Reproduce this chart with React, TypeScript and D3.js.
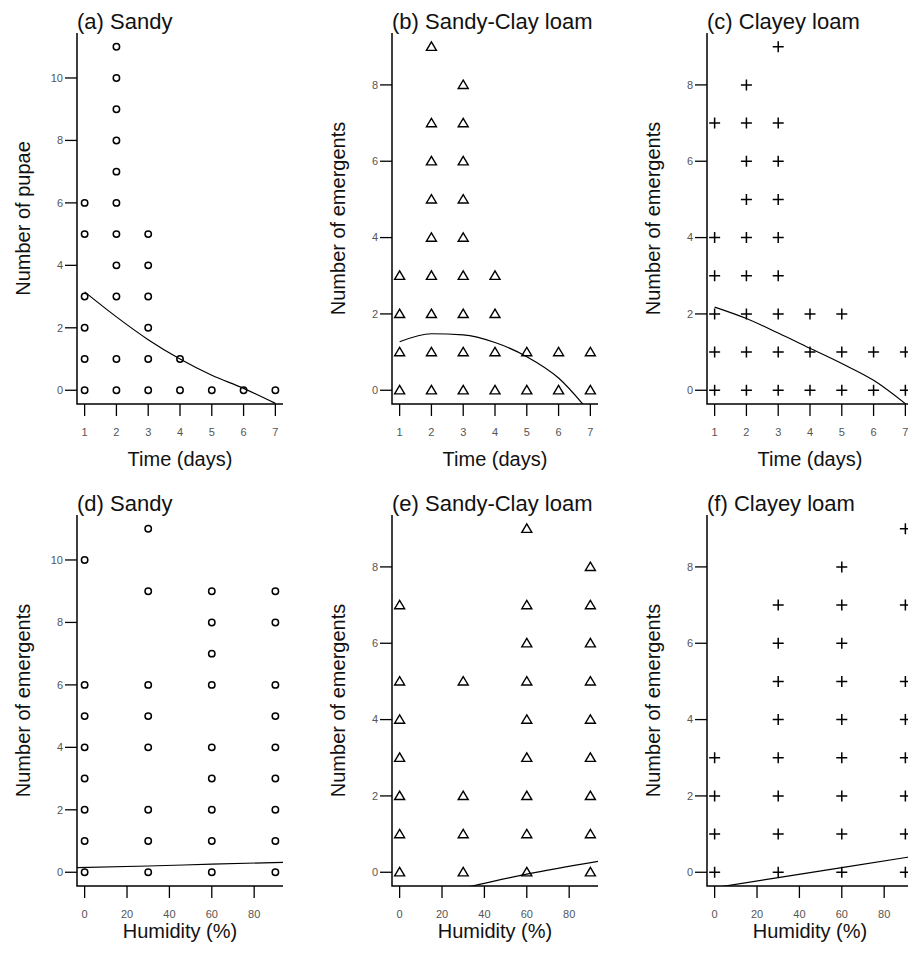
import * as d3 from 'd3'

// x levels
const DAYS = [1, 2, 3, 4, 5, 6, 7]
const HUMIDITY = [0, 30, 60, 90]
const DAY_TICKS = [1, 2, 3, 4, 5, 6, 7]
const HUM_TICKS = [0, 20, 40, 60, 80]
const Y_TICKS_SANDY = [0, 2, 4, 6, 8, 10]
const Y_TICKS_LOAM = [0, 2, 4, 6, 8]

// observed counts at each x level (one list per level)
const sandyTime = [
  [0, 1, 2, 3, 5, 6],
  [0, 1, 3, 4, 5, 6, 7, 8, 9, 10, 11],
  [0, 1, 2, 3, 4, 5],
  [0, 1],
  [0],
  [0],
  [0],
]
const sandyClayTime = [
  [0, 1, 2, 3],
  [0, 1, 2, 3, 4, 5, 6, 7, 9],
  [0, 1, 2, 3, 4, 5, 6, 7, 8],
  [0, 1, 2, 3],
  [0, 1],
  [0, 1],
  [0, 1],
]
const clayeyTime = [
  [0, 1, 2, 3, 4, 7],
  [0, 1, 2, 3, 4, 5, 6, 7, 8],
  [0, 1, 2, 3, 4, 5, 6, 7, 9],
  [0, 1, 2],
  [0, 1, 2],
  [0, 1],
  [0, 1],
]
const sandyHum = [
  [0, 1, 2, 3, 4, 5, 6, 10],
  [0, 1, 2, 4, 5, 6, 9, 11],
  [0, 1, 2, 3, 4, 6, 7, 8, 9],
  [0, 1, 2, 3, 4, 5, 6, 8, 9],
]
const sandyClayHum = [
  [0, 1, 2, 3, 4, 5, 7],
  [0, 1, 2, 5],
  [0, 1, 2, 3, 4, 5, 6, 7, 9],
  [0, 1, 2, 3, 4, 5, 6, 7, 8],
]
const clayeyHum = [
  [0, 1, 2, 3],
  [0, 1, 2, 3, 4, 5, 6, 7],
  [0, 1, 2, 3, 4, 5, 6, 7, 8],
  [0, 1, 2, 3, 4, 5, 7, 9],
]

// fitted curves
const FIT_DAYS = [1, 2, 3, 4, 5, 6, 7]
const fitSandyTime = [3.15, 2.35, 1.62, 1.0, 0.48, 0.06, -0.42]
const fitSandyClayTime = [1.27, 1.48, 1.45, 1.25, 0.88, 0.32, -0.6]
const fitClayeyTime = [2.18, 1.88, 1.5, 1.1, 0.7, 0.26, -0.35]
const FIT_HUM = [-4, 30, 60, 94]
const fitSandyHum = [0.15, 0.2, 0.26, 0.32]
const fitSandyClayHum = [-0.78, -0.41, -0.05, 0.29]
const fitClayeyHum = [-0.44, -0.14, 0.12, 0.42]

type Marker = 'circle' | 'triangle' | 'plus'

interface PanelDef {
  title: string
  yLabel: string
  xLabel: string
  levels: number[]
  counts: number[][]
  xTicks: number[]
  yTicks: number[]
  yMax: number
  fitX: number[]
  fitY: number[]
  marker: Marker
}

const FONT = '"Liberation Sans", Arial, sans-serif'

const panels: PanelDef[] = [
  { title: '(a) Sandy', yLabel: 'Number of pupae', xLabel: 'Time (days)', levels: DAYS, counts: sandyTime, xTicks: DAY_TICKS, yTicks: Y_TICKS_SANDY, yMax: 11, fitX: FIT_DAYS, fitY: fitSandyTime, marker: 'circle' },
  { title: '(b) Sandy-Clay loam', yLabel: 'Number of emergents', xLabel: 'Time (days)', levels: DAYS, counts: sandyClayTime, xTicks: DAY_TICKS, yTicks: Y_TICKS_LOAM, yMax: 9, fitX: FIT_DAYS, fitY: fitSandyClayTime, marker: 'triangle' },
  { title: '(c) Clayey loam', yLabel: 'Number of emergents', xLabel: 'Time (days)', levels: DAYS, counts: clayeyTime, xTicks: DAY_TICKS, yTicks: Y_TICKS_LOAM, yMax: 9, fitX: FIT_DAYS, fitY: fitClayeyTime, marker: 'plus' },
  { title: '(d) Sandy', yLabel: 'Number of emergents', xLabel: 'Humidity (%)', levels: HUMIDITY, counts: sandyHum, xTicks: HUM_TICKS, yTicks: Y_TICKS_SANDY, yMax: 11, fitX: FIT_HUM, fitY: fitSandyHum, marker: 'circle' },
  { title: '(e) Sandy-Clay loam', yLabel: 'Number of emergents', xLabel: 'Humidity (%)', levels: HUMIDITY, counts: sandyClayHum, xTicks: HUM_TICKS, yTicks: Y_TICKS_LOAM, yMax: 9, fitX: FIT_HUM, fitY: fitSandyClayHum, marker: 'triangle' },
  { title: '(f) Clayey loam', yLabel: 'Number of emergents', xLabel: 'Humidity (%)', levels: HUMIDITY, counts: clayeyHum, xTicks: HUM_TICKS, yTicks: Y_TICKS_LOAM, yMax: 9, fitX: FIT_HUM, fitY: fitClayeyHum, marker: 'plus' },
]

// R-style 4% padding around data range
const pad = (lo: number, hi: number): [number, number] => {
  const d = (hi - lo) * 0.04
  return [lo - d, hi + d]
}

function MarkerShape({ kind, x, y }: { kind: Marker; x: number; y: number }) {
  if (kind === 'circle') {
    return <circle cx={x} cy={y} r={3.2} fill="none" stroke="#000" strokeWidth={1.5} />
  }
  if (kind === 'triangle') {
    return (
      <path
        d={`M${x},${y - 4.8}L${x + 5},${y + 3.6}L${x - 5},${y + 3.6}Z`}
        fill="none" stroke="#000" strokeWidth={1.4} strokeLinejoin="miter"
      />
    )
  }
  return (
    <path
      d={`M${x - 5.5},${y}H${x + 5.5}M${x},${y - 5.5}V${y + 5.5}`}
      stroke="#000" strokeWidth={1.5}
    />
  )
}

function Panel({ p, idx }: { p: PanelDef; idx: number }) {
  const col = idx % 3
  const row = Math.floor(idx / 3)
  const left = 77 + col * 315
  const width = 206
  const top = row === 0 ? 33 : 515
  const bottom = row === 0 ? 404 : 886

  const xs = d3.scaleLinear()
    .domain(pad(p.levels[0], p.levels[p.levels.length - 1]))
    .range([left, left + width])
  const ys = d3.scaleLinear().domain(pad(0, p.yMax)).range([bottom, top])

  const line = d3.line<number>()
    .x((_, i) => xs(p.fitX[i]))
    .y((d) => ys(d))
    .curve(d3.curveMonotoneX)

  const clipId = `clip-${idx}`
  const xTitleY = row === 0 ? 466 : 938
  const tickLabelY = bottom + 28
  const midY = (top + bottom) / 2

  return (
    <g>
      <defs>
        <clipPath id={clipId}>
          <rect x={left} y={top} width={width} height={bottom - top} />
        </clipPath>
      </defs>

      {/* points */}
      {p.counts.map((vals, i) =>
        vals.map((v) => (
          <MarkerShape key={`${i}-${v}`} kind={p.marker} x={xs(p.levels[i])} y={ys(v)} />
        ))
      )}

      {/* fitted curve */}
      <path d={line(p.fitY) ?? ''} fill="none" stroke="#000" strokeWidth={1.2} clipPath={`url(#${clipId})`} />

      {/* L-shaped box */}
      <path d={`M${left},${top}V${bottom}H${left + width}`} fill="none" stroke="#000" strokeWidth={1.5} />

      {/* y axis ticks */}
      {p.yTicks.map((t) => (
        <g key={`y${t}`}>
          <line x1={left - 12} x2={left} y1={ys(t)} y2={ys(t)} stroke="#000" strokeWidth={1.3} />
          <text x={left - 14} y={ys(t)} dy="0.35em" textAnchor="end" fontSize={11} fill="#555" fontFamily={FONT}>{t}</text>
        </g>
      ))}

      {/* x axis ticks */}
      {p.xTicks.map((t) => (
        <g key={`x${t}`}>
          <line x1={xs(t)} x2={xs(t)} y1={bottom} y2={bottom + 12} stroke="#000" strokeWidth={1.3} />
          <text x={xs(t)} y={tickLabelY} dy="0.35em" textAnchor="middle" fontSize={11} fill="#555" fontFamily={FONT}>{t}</text>
        </g>
      ))}

      <text x={left} y={row === 0 ? 29 : 511} fontSize={22} fontFamily={FONT} fill="#111">{p.title}</text>
      <text x={left + width / 2} y={xTitleY} textAnchor="middle" fontSize={20} fontFamily={FONT} fill="#111">{p.xLabel}</text>
      <text
        transform={`translate(${left - 47},${midY}) rotate(-90)`}
        textAnchor="middle" fontSize={20} fontFamily={FONT} fill="#111"
      >
        {p.yLabel}
      </text>
    </g>
  )
}

export default function App() {
  return (
    <div style={{ position: 'absolute', left: 0, top: 0 }}>
      <svg width={908} height={953} style={{ display: 'block', background: '#fff' }}>
        {panels.map((p, i) => <Panel key={p.title + i} p={p} idx={i} />)}
      </svg>
    </div>
  )
}
